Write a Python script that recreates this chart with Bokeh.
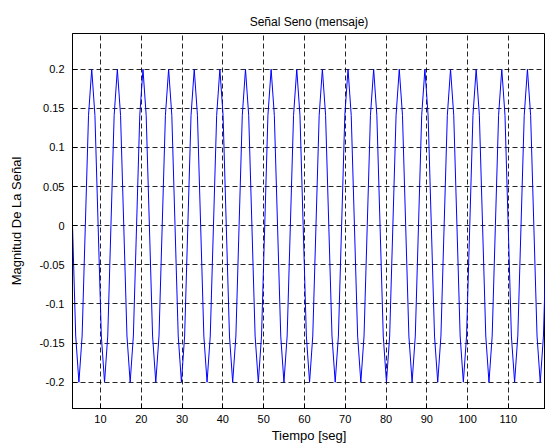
from bokeh.plotting import figure
from bokeh.models import Range1d, FixedTicker
from bokeh.embed import file_html
from bokeh.resources import INLINE

t_start = 3.1416
t_step = 0.7854
signal = [
    0.0, -0.141, -0.2, -0.141, 0.0, 0.141, 0.2, 0.141,
    0.0, -0.141, -0.2, -0.141, 0.0, 0.141, 0.2, 0.141,
    0.0, -0.141, -0.2, -0.141, 0.0, 0.141, 0.2, 0.141,
    0.0, -0.141, -0.2, -0.141, 0.0, 0.141, 0.2, 0.141,
    0.0, -0.141, -0.2, -0.141, 0.0, 0.141, 0.2, 0.141,
    0.0, -0.141, -0.2, -0.141, 0.0, 0.141, 0.2, 0.141,
    0.0, -0.141, -0.2, -0.141, 0.0, 0.141, 0.2, 0.141,
    0.0, -0.141, -0.2, -0.141, 0.0, 0.141, 0.2, 0.141,
    0.0, -0.141, -0.2, -0.141, 0.0, 0.141, 0.2, 0.141,
    0.0, -0.141, -0.2, -0.141, 0.0, 0.141, 0.2, 0.141,
    0.0, -0.141, -0.2, -0.141, 0.0, 0.141, 0.2, 0.141,
    0.0, -0.141, -0.2, -0.141, 0.0, 0.141, 0.2, 0.141,
    0.0, -0.141, -0.2, -0.141, 0.0, 0.141, 0.2, 0.141,
    0.0, -0.141, -0.2, -0.141, 0.0, 0.141, 0.2, 0.141,
    0.0, -0.141, -0.2, -0.141, 0.0, 0.141, 0.2, 0.141,
    0.0, -0.141, -0.2, -0.141, 0.0, 0.141, 0.2, 0.141,
    0.0, -0.141, -0.2, -0.141, 0.0, 0.141, 0.2, 0.141,
    0.0, -0.141, -0.2, -0.141, 0.0, 0.141, 0.2, 0.141,
    0.0, -0.141, -0.2, -0.141, 0.0, 0.141,
]
time = [t_start + i * t_step for i in range(len(signal))]

x_ticks = [10, 20, 30, 40, 50, 60, 70, 80, 90, 100, 110]
y_ticks = [-0.2, -0.15, -0.1, -0.05, 0, 0.05, 0.1, 0.15, 0.2]
y_tick_labels = ["-0.2", "-0.15", "-0.1", "-0.05", "0", "0.05", "0.1", "0.15", "0.2"]

FONT = "Liberation Sans"

p = figure(width=545, height=448, output_backend="svg", toolbar_location=None,
           x_range=Range1d(3.1416, 119.1), y_range=Range1d(-0.2336, 0.2456),
           min_border_left=72, min_border_right=0, min_border_top=33, min_border_bottom=40)

p.title.text = "Señal Seno (mensaje)"
p.title.align = "center"
p.title.text_font = FONT
p.title.text_font_size = "12px"
p.title.text_font_style = "normal"
p.title.text_color = "#000000"
p.title.offset = 0

p.line(time, signal, line_color="#0000ff", line_width=1)

p.outline_line_color = "#000000"
p.outline_line_width = 1
p.background_fill_color = "white"
p.border_fill_color = "white"

for ax in (p.xaxis[0], p.yaxis[0]):
    ax.major_tick_in = 5
    ax.major_tick_out = 0
    ax.minor_tick_line_color = None
    ax.axis_line_color = "#000000"
    ax.major_tick_line_color = "#000000"
    ax.major_label_text_font = FONT
    ax.major_label_text_font_size = "11px"
    ax.major_label_text_color = "#000000"
    ax.axis_label_text_font = FONT
    ax.axis_label_text_font_size = "13px"
    ax.axis_label_text_font_style = "normal"
    ax.axis_label_text_color = "#000000"

p.xaxis.ticker = FixedTicker(ticks=x_ticks)
p.yaxis.ticker = FixedTicker(ticks=y_ticks)
p.yaxis.major_label_overrides = {v: s for v, s in zip(y_ticks, y_tick_labels)}
p.xaxis.axis_label = "Tiempo [seg]"
p.yaxis.axis_label = "Magnitud De La Señal"
p.xaxis.major_label_standoff = 6
p.xaxis.axis_label_standoff = 2
p.yaxis.major_label_standoff = 8
p.yaxis.axis_label_standoff = 12

p.grid.grid_line_color = "#000000"
p.grid.grid_line_dash = "5 3"
p.grid.grid_line_alpha = 0.85
p.xgrid.ticker = FixedTicker(ticks=x_ticks)
p.ygrid.ticker = FixedTicker(ticks=y_ticks)

open("out.html", "w").write(file_html(p, INLINE))
